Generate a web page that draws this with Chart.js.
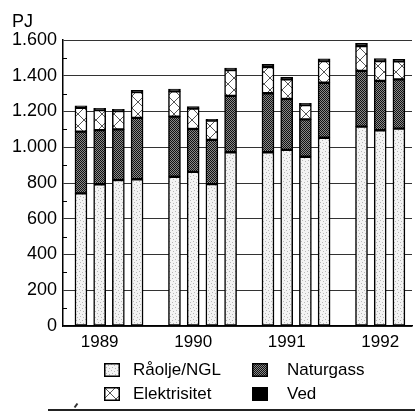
<!DOCTYPE html>
<html lang="no">
<head>
    <meta charset="UTF-8">
    <title>Produksjon av energi</title>
    <script src="https://cdn.jsdelivr.net/npm/chart.js"></script>
    <style>
        body { margin: 0; background: #fff; font-family: "Liberation Sans", Arial, sans-serif; color: #000; }
        .wrap { position: relative; width: 415px; height: 412px; overflow: hidden; }
        #chart { position: absolute; left: 0; top: 0; }
        .unit { position: absolute; left: 12px; top: 11px; font-size: 18px; }
        .item { position: absolute; font-size: 17px; line-height: 20px; white-space: nowrap; }
        .item canvas { position: absolute; left: 0; top: 3px; }
        .item span { position: absolute; top: 0; }
        .rule { position: absolute; left: 48px; top: 409px; width: 367px; height: 2px; background: #222; }
        .speck { position: absolute; left: 75px; top: 403px; width: 2px; height: 5px; background: #333; transform: rotate(35deg); }
    </style>
</head>
<body>
<div class="wrap">
    <canvas id="chart" width="415" height="412"></canvas>
    <div class="unit">PJ</div>
    <div class="item" style="left:104px; top:360px;"><canvas id="sw0" width="16" height="14"></canvas><span style="left:29px">Råolje/NGL</span></div>
    <div class="item" style="left:252px; top:360px;"><canvas id="sw1" width="16" height="14"></canvas><span style="left:35px">Naturgass</span></div>
    <div class="item" style="left:104px; top:384px;"><canvas id="sw2" width="16" height="14"></canvas><span style="left:29px">Elektrisitet</span></div>
    <div class="item" style="left:252px; top:384px;"><canvas id="sw3" width="16" height="14"></canvas><span style="left:35px">Ved</span></div>
    <div class="rule"></div>
    <div class="speck"></div>
</div>

<script>
    // quarters, 1992 has only three
    const years = ['1989', '1990', '1991', '1992'];
    const quarters = ['1989-1', '1989-2', '1989-3', '1989-4',
                      '1990-1', '1990-2', '1990-3', '1990-4',
                      '1991-1', '1991-2', '1991-3', '1991-4',
                      '1992-1', '1992-2', '1992-3'];

    // PJ per quarter
    const raolje       = [742, 793, 817, 821, 835, 862, 794, 972, 972, 985, 947, 1053, 1115, 1095, 1104];
    const naturgass    = [345, 303, 283, 343, 336, 240, 247, 315, 330, 285, 209, 308, 312, 276, 276];
    const elektrisitet = [134, 112, 103, 145, 142, 114, 108, 145, 147, 110, 80, 121, 139, 111, 101];
    const ved          = [11, 10, 9, 9, 13, 11, 7, 11, 15, 11, 10, 12, 15, 14, 11];

    const yTicks = [0, 200, 400, 600, 800, 1000, 1200, 1400, 1600];

    // one empty slot between the years
    function slotOf(q) {
        const [y, n] = q.split('-');
        return years.indexOf(y) * 5 + (parseInt(n) - 1);
    }
    const slots = quarters.map(slotOf);
    const yearPos = years.map((y, i) => i * 5 + 1);  // label sits under the 2nd quarter

    function pattern(w, h, draw) {
        const c = document.createElement('canvas');
        c.width = w; c.height = h;
        draw(c.getContext('2d'));
        return c;
    }

    const dotsCanvas = pattern(6, 6, g => {
        g.fillStyle = '#f3f3f3'; g.fillRect(0, 0, 6, 6);
        g.fillStyle = '#b5b5b5';
        g.fillRect(1, 1, 1, 1); g.fillRect(4, 2, 1, 1); g.fillRect(2, 4, 1, 1); g.fillRect(5, 5, 1, 1);
    });
    const checkCanvas = pattern(2, 2, g => {
        g.fillStyle = '#8a8a8a'; g.fillRect(0, 0, 2, 2);
        g.fillStyle = '#111'; g.fillRect(0, 0, 1, 1); g.fillRect(1, 1, 1, 1);
    });
    const crossCanvas = pattern(12, 12, g => {
        g.fillStyle = '#fff'; g.fillRect(0, 0, 12, 12);
        g.strokeStyle = '#555'; g.lineWidth = 1;
        g.beginPath();
        g.moveTo(0, 0); g.lineTo(12, 12);
        g.moveTo(12, 0); g.lineTo(0, 12);
        g.stroke();
    });

    const ctx = document.getElementById('chart').getContext('2d');
    const fills = [
        ctx.createPattern(dotsCanvas, 'repeat'),
        ctx.createPattern(checkCanvas, 'repeat'),
        ctx.createPattern(crossCanvas, 'repeat'),
        '#000'
    ];

    // legend swatches
    fills.forEach((f, i) => {
        const g = document.getElementById('sw' + i).getContext('2d');
        g.fillStyle = (typeof f === 'string') ? f : g.createPattern([dotsCanvas, checkCanvas, crossCanvas][i], 'repeat');
        g.fillRect(0, 0, 16, 14);
        g.strokeStyle = '#000'; g.lineWidth = 1.5;
        g.strokeRect(0.75, 0.75, 14.5, 12.5);
    });

    function series(label, values, fill) {
        return {
            label: label,
            data: values.map((v, i) => ({ x: slots[i], y: v })),
            backgroundColor: fill,
            borderColor: '#000',
            borderWidth: 1.5,
            borderSkipped: false,
            barThickness: 12
        };
    }

    const minorTicks = {
        id: 'minorTicks',
        afterDraw(chart) {
            const y = chart.scales.y;
            const left = chart.chartArea.left;
            const c = chart.ctx;
            c.save();
            c.strokeStyle = '#000';
            c.lineWidth = 1;
            for (let v = 100; v < 1600; v += 200) {
                const py = Math.round(y.getPixelForValue(v)) + 0.5;
                c.beginPath();
                c.moveTo(left, py);
                c.lineTo(left + 4, py);
                c.stroke();
            }
            c.restore();
        }
    };

    new Chart(ctx, {
        type: 'bar',
        data: {
            datasets: [
                series('Råolje/NGL', raolje, fills[0]),
                series('Naturgass', naturgass, fills[1]),
                series('Elektrisitet', elektrisitet, fills[2]),
                series('Ved', ved, fills[3])
            ]
        },
        plugins: [minorTicks],
        options: {
            responsive: false,
            animation: false,
            layout: { padding: { top: 40, right: 3, bottom: 60, left: 0 } },
            plugins: { legend: { display: false }, tooltip: { enabled: false } },
            scales: {
                x: {
                    type: 'linear',
                    stacked: true,
                    offset: false,
                    min: -0.96,
                    max: 17.7,
                    afterBuildTicks: s => { s.ticks = yearPos.map(v => ({ value: v })); },
                    afterFit: s => { s.height = 26; },
                    ticks: {
                        autoSkip: false,
                        maxRotation: 0,
                        padding: 6,
                        color: '#000',
                        font: { family: 'Liberation Sans', size: 17 },
                        callback: v => years[yearPos.indexOf(v)]
                    },
                    grid: { display: true, offset: false, drawOnChartArea: false, drawTicks: false },
                    border: { color: '#000', width: 1.5 }
                },
                y: {
                    stacked: true,
                    min: 0,
                    max: 1600,
                    afterBuildTicks: s => { s.ticks = yTicks.map(v => ({ value: v })); },
                    afterFit: s => { s.width = 63; },
                    ticks: {
                        padding: 6,
                        color: '#000',
                        font: { family: 'Liberation Sans', size: 18 },
                        callback: v => String(v).replace(/\B(?=(\d{3})+(?!\d))/g, '.')
                    },
                    grid: { color: '#333', lineWidth: 1, drawTicks: false },
                    border: { color: '#000', width: 1.5 }
                }
            }
        }
    });
</script>
</body>
</html>
